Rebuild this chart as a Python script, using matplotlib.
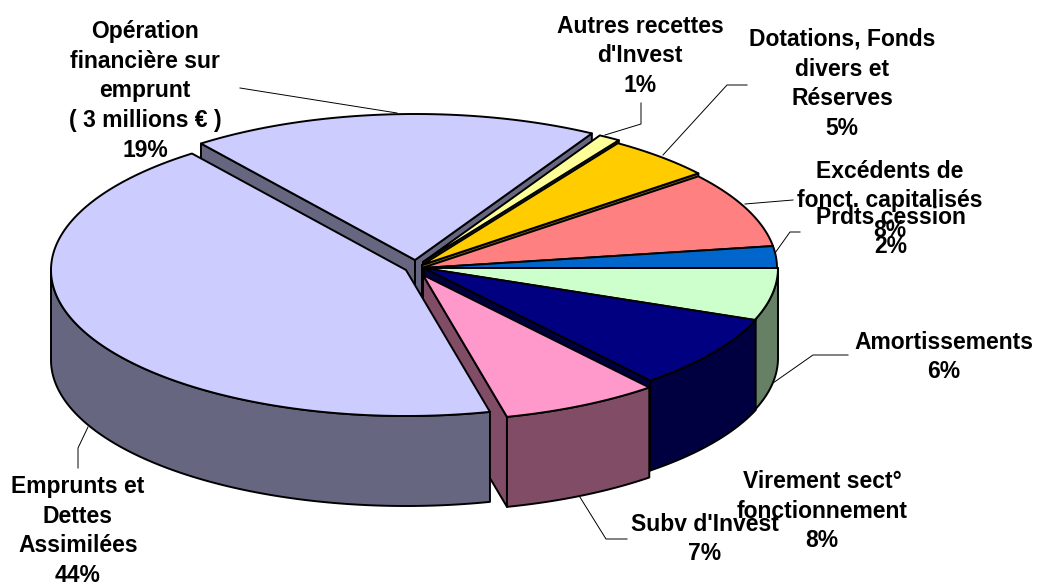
"""Exploded 3D-look pie of investment receipts, drawn as flat polygons."""
import matplotlib

matplotlib.use("Agg")
import matplotlib.pyplot as plt
import numpy as np
from matplotlib.patches import Polygon

plt.rcParams["font.family"] = ["Liberation Sans", "DejaVu Sans"]

# clockwise from 3 o'clock, percent
categories = [
    "Amortissements",
    "Virement sect°\nfonctionnement",
    "Subv d'Invest",
    "Emprunts et\nDettes\nAssimilées",
    "Opération\nfinancière sur\nemprunt\n( 3 millions € )",
    "Autres recettes\nd'Invest",
    "Dotations, Fonds\ndivers et\nRéserves",
    "Excédents de\nfonct. capitalisés",
    "Prdts cession",
]
values = [5.8, 8.2, 7.2, 43.5, 18.6, 1.0, 4.9, 8.4, 2.4]

top_colors = ["#CCFFCC", "#000080", "#FF99CC", "#CCCCFF", "#CCCCFF",
              "#FFFF99", "#FFCC00", "#FF8080", "#0066CC"]
side_colors = ["#668066", "#000040", "#804C66", "#666680", "#666680",
               "#80804C", "#806600", "#804040", "#003366"]
# pixel shift of each slice away from the pie centre
shifts = [(1, 0), (2, 0), (1, 7), (-16, 2), (-7, -8), (1, -6), (0, -3), (0, 0), (0, 0)]
label_pos = [(944, 357), (822, 511), (705, 539), (78, 531), (145, 91),
             (640, 56), (842, 84), (890, 201), (891, 232)]
leaders = [
    [(848, 355), (813, 355), (773, 383)],
    [],
    [(578, 494), (606, 539), (627, 539)],
    [(88, 427), (78, 448), (78, 468)],
    [(240, 88), (397, 113)],
    [(641, 103), (641, 124), (605, 135)],
    [(747, 85), (727, 85), (663, 155)],
    [(793, 200), (745, 204)],
    [(800, 232), (790, 232), (775, 253)],
]

CX, CY = 422, 268
RX, RY = 355, 146
DEPTH = 90


def rim(cx, cy, a0, a1):
    t = np.radians(np.linspace(a0, a1, max(int(a1 - a0) * 2, 2)))
    return np.column_stack([cx + RX * np.cos(t), cy + RY * np.sin(t)])


def draw_slice(ax, cx, cy, a0, a1, top, side, z):
    style = dict(edgecolor="black", linewidth=1.4, joinstyle="round", zorder=z)
    down = np.array([0, DEPTH])
    centre = np.array([cx, cy])
    # radial walls that face the viewer
    for a, visible in ((a0, np.cos(np.radians(a0)) < 0), (a1, np.cos(np.radians(a1)) > 0)):
        if visible:
            p = rim(cx, cy, a, a + 0.01)[0]
            ax.add_patch(Polygon([centre, p, p + down, centre + down], facecolor=side, **style))
    # outer wall, front half of the ellipse only
    lo, hi = max(a0, 0), min(a1, 180)
    if hi > lo:
        arc = rim(cx, cy, lo, hi)
        ax.add_patch(Polygon(np.vstack([arc, arc[::-1] + down]), facecolor=side, **style))
    ax.add_patch(Polygon(np.vstack([centre, rim(cx, cy, a0, a1)]), facecolor=top, **style))


fig = plt.figure(figsize=(10.38, 5.85), dpi=100)
ax = fig.add_axes([0, 0, 1, 1])
ax.set_xlim(0, 1038)
ax.set_ylim(585, 0)
ax.axis("off")

edges = np.concatenate([[0], np.cumsum(values)]) / sum(values) * 360
# back slices first, Emprunts goes over the pink wall
order = [4, 5, 6, 7, 8, 0, 1, 2, 3]
for z, i in enumerate(order):
    dx, dy = shifts[i]
    draw_slice(ax, CX + dx, CY + dy, edges[i], edges[i + 1], top_colors[i], side_colors[i], 2 + z)

for name, v, (x, y), line in zip(categories, values, label_pos, leaders):
    if line:
        xs, ys = zip(*line)
        ax.plot(xs, ys, color="black", lw=0.7, zorder=1)
    ax.text(x, y, f"{name}\n{round(v)}%", ha="center", va="center", fontsize=16.5,
            fontweight="bold", linespacing=1.38, color="black", zorder=30)

fig.savefig("out.png", dpi=100)
